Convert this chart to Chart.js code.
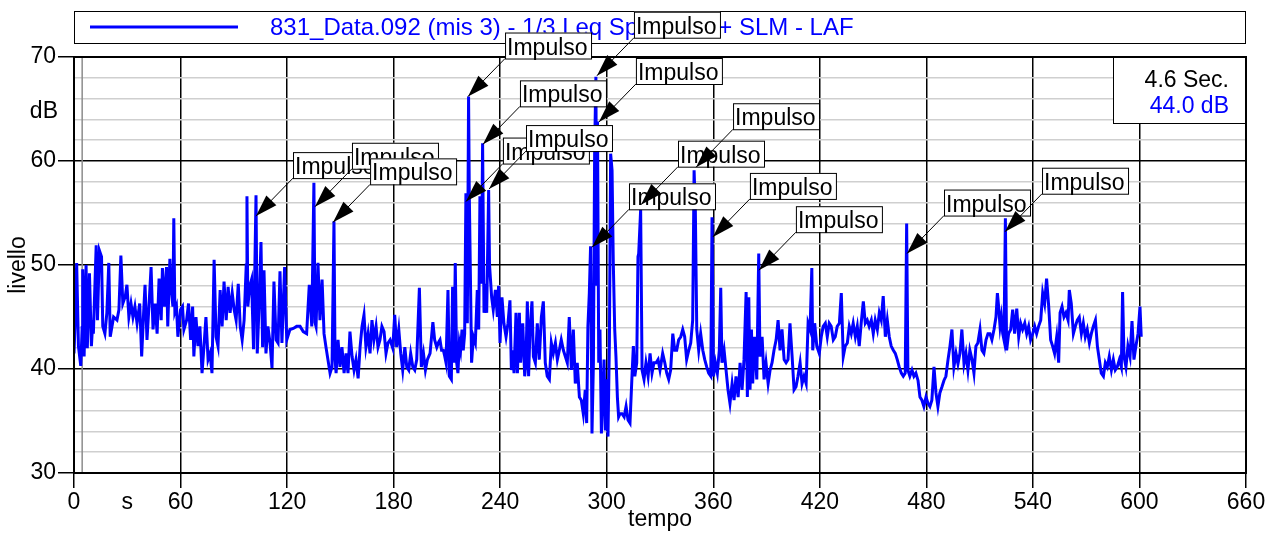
<!DOCTYPE html>
<html>
<head>
<meta charset="utf-8">
<script src="https://cdn.jsdelivr.net/npm/chart.js@4.4.1/dist/chart.umd.min.js"></script>
<style>
  html, body { margin: 0; padding: 0; background: #fff; }
  #wrap { width: 1278px; height: 534px; }
</style>
</head>
<body>
<div id="wrap"><canvas id="chart" width="1278" height="534"></canvas></div>
<script>
/**
 * LAF level vs time, with impulse markers and cursor readout
 */
const FONT = '"Liberation Sans", Arial, sans-serif';

const seriesName = '831_Data.092 (mis 3) - 1/3 Leq Spectrum + SLM - LAF';

// time in seconds
const timeS = [
  0, 0.75, 1.5, 2.5, 3.8, 4.6, 4.9, 5.7, 6.8, 7.5,
  8.7, 9.8, 10.6, 10.9, 12.5, 13.2, 14.3, 15.5, 16.2, 17.4,
  18.5, 19.6, 20.4, 22.3, 24.2, 25.3, 26.4, 27.5, 28.9, 29.8,
  30.9, 32.1, 33.2, 34.3, 35.5, 37.0, 38.1, 39.2, 40.0, 41.1,
  42.3, 43.4, 44.5, 45.7, 46.8, 47.9, 49.1, 49.8, 50.9, 52.1,
  52.8, 54.0, 54.7, 55.7, 56.2, 56.8, 57.7, 58.5, 60.0, 61.1,
  61.9, 63.4, 64.5, 65.7, 66.8, 67.5, 68.7, 69.8, 70.9, 72.1,
  73.2, 74.3, 75.5, 76.6, 77.7, 78.9, 80.0, 81.1, 82.3, 83.4,
  84.5, 85.7, 86.8, 87.9, 89.1, 90.2, 91.3, 92.5, 93.6, 94.7,
  95.8, 97.0, 97.4, 97.9, 98.9, 100.0, 101.1, 102.5, 103.2, 104.2,
  105.3, 106.2, 107.0, 108.1, 109.2, 110.4, 111.5, 112.6, 113.8, 114.9,
  116.0, 117.1, 118.6, 119.8, 121.6, 123.5, 125.4, 127.3, 129.1, 131.0,
  132.5, 133.9, 135.1, 135.7, 136.3, 137.4, 138.5, 139.7, 140.8, 141.9,
  143.0, 144.2, 145.3, 146.4, 147.0, 147.6, 148.7, 149.8, 150.9, 152.1,
  153.2, 154.3, 155.4, 156.6, 157.7, 158.8, 160.0, 161.1, 162.2, 163.3,
  164.4, 165.6, 166.7, 167.8, 168.9, 170.1, 171.2, 172.3, 173.4, 174.6,
  175.7, 176.8, 178.0, 179.5, 180.6, 181.7, 182.9, 184.0, 185.1, 186.3,
  187.4, 188.5, 189.6, 190.8, 191.9, 193.0, 194.5, 195.6, 196.8, 197.9,
  199.0, 200.5, 202.1, 203.1, 204.3, 205.4, 206.1, 207.0, 208.0, 208.8,
  209.5, 210.6, 211.4, 212.5, 213.2, 214.0, 214.7, 215.5, 216.2, 217.0,
  217.7, 218.5, 219.2, 220.0, 220.7, 221.5, 222.2, 222.6, 223.9, 224.9,
  226.0, 227.1, 227.9, 228.6, 229.4, 230.1, 230.9, 231.6, 232.4, 233.5,
  234.0, 235.2, 236.1, 237.3, 238.4, 239.1, 239.9, 241.0, 242.1, 243.3,
  244.4, 245.5, 246.3, 247.0, 247.8, 248.9, 249.7, 250.8, 251.5, 252.7,
  253.8, 254.5, 255.3, 256.0, 256.8, 257.9, 258.7, 259.8, 260.9, 262.0,
  263.2, 264.3, 265.4, 266.5, 267.7, 268.8, 269.9, 271.1, 272.2, 273.3,
  274.4, 275.6, 276.7, 277.8, 278.9, 280.1, 281.2, 282.3, 283.4, 284.6,
  285.7, 286.8, 287.9, 288.7, 289.4, 290.2, 290.9, 291.7, 292.5, 293.2,
  293.9, 294.4, 294.8, 295.5, 296.2, 297.0, 297.7, 298.5, 299.2, 300.0,
  300.7, 301.5, 302.2, 303.0, 303.7, 304.5, 305.2, 306.0, 306.7, 307.5,
  308.6, 309.8, 310.9, 312.0, 313.1, 314.3, 315.0, 315.8, 316.9, 317.6,
  318.0, 319.1, 319.9, 321.0, 322.1, 323.3, 324.4, 325.5, 326.6, 327.8,
  328.9, 330.0, 331.5, 332.7, 333.8, 334.9, 336.0, 337.2, 338.3, 339.4,
  340.5, 341.7, 342.8, 343.9, 345.0, 346.2, 347.3, 348.4, 349.2, 349.9,
  350.7, 351.8, 352.9, 354.1, 355.2, 356.3, 357.4, 358.6, 359.3, 360.1,
  361.2, 362.3, 363.4, 364.2, 364.9, 366.1, 367.2, 368.3, 369.4, 370.6,
  371.7, 372.8, 374.0, 375.1, 376.2, 377.3, 378.5, 379.2, 380.0, 380.7,
  381.5, 382.2, 383.3, 384.5, 385.6, 386.3, 387.5, 388.6, 389.7, 390.9,
  392.0, 393.1, 394.2, 395.4, 396.5, 397.6, 398.7, 399.9, 401.0, 402.1,
  403.2, 404.4, 405.5, 406.6, 407.7, 408.9, 410.0, 411.1, 412.3, 413.4,
  414.5, 415.5, 416.0, 417.1, 418.3, 419.7, 420.8, 421.9, 423.1, 424.2,
  425.3, 426.4, 427.6, 428.7, 429.8, 431.0, 432.1, 433.2, 434.3, 435.5,
  436.6, 437.7, 438.8, 440.0, 441.1, 442.2, 443.3, 444.5, 445.6, 446.7,
  447.8, 449.0, 450.1, 451.2, 452.4, 453.5, 454.6, 455.7, 456.9, 458.0,
  459.1, 460.2, 461.4, 462.5, 463.6, 464.7, 465.9, 467.0, 468.1, 468.9,
  469.6, 470.7, 471.9, 473.0, 474.1, 475.3, 476.4, 477.5, 478.6, 479.8,
  480.9, 482.0, 483.1, 484.3, 485.4, 486.5, 487.6, 488.8, 489.9, 491.0,
  492.2, 493.3, 494.4, 495.5, 496.7, 497.8, 498.9, 500.0, 501.2, 502.3,
  503.4, 504.5, 505.7, 506.8, 507.9, 509.0, 510.2, 511.3, 512.4, 513.6,
  514.7, 515.8, 516.9, 518.1, 519.2, 520.0, 520.7, 521.5, 522.2, 523.0,
  523.7, 524.5, 525.2, 526.3, 527.5, 528.6, 529.7, 530.9, 532.0, 533.1,
  534.2, 535.4, 536.5, 537.6, 538.7, 539.9, 541.0, 542.1, 543.2, 544.4,
  545.5, 546.6, 547.7, 548.9, 550.0, 551.1, 552.2, 553.4, 554.5, 555.3,
  556.4, 557.5, 558.6, 559.8, 560.5, 561.6, 562.8, 563.9, 565.0, 566.1,
  567.3, 568.4, 569.5, 570.6, 571.8, 572.9, 574.0, 575.2, 576.3, 577.4,
  578.5, 579.7, 580.8, 581.9, 583.0, 584.2, 585.3, 586.4, 587.5, 588.7,
  589.8, 590.5, 591.3, 592.4, 593.5, 594.7, 595.8, 596.9, 598.0, 599.2,
  600.3, 601.0
];

// LAF level in dB
const levelDb = [
  41.5, 45.0, 50.2, 42.2, 40.3, 44.0, 49.6, 41.2, 50.0, 42.0,
  49.2, 42.2, 44.7, 43.4, 51.9, 44.7, 51.4, 50.8, 44.1, 43.4,
  45.4, 50.2, 43.1, 45.0, 44.7, 45.7, 50.9, 46.3, 47.0, 48.1,
  45.0, 46.3, 45.0, 46.0, 44.4, 46.3, 41.2, 45.4, 48.1, 42.8,
  46.3, 49.8, 43.8, 46.3, 43.4, 48.7, 44.7, 49.7, 46.0, 49.8,
  44.1, 50.6, 47.9, 46.0, 54.5, 45.5, 46.0, 43.1, 45.7, 46.0,
  43.8, 44.7, 46.3, 42.8, 46.0, 41.2, 45.0, 42.2, 44.1, 39.6,
  42.2, 45.0, 40.9, 41.5, 39.6, 50.5, 43.1, 42.2, 47.6, 44.1,
  48.4, 44.7, 47.9, 45.4, 47.3, 45.7, 44.7, 48.2, 44.1, 42.8,
  44.7, 50.0, 56.6, 46.0, 47.9, 48.6, 41.9, 56.7, 41.5, 46.0,
  52.2, 42.1, 49.5, 41.5, 44.1, 42.5, 40.1, 48.4, 42.8, 42.5,
  49.4, 42.5, 49.8, 42.8, 43.8, 43.9, 44.1, 44.1, 43.6, 43.4,
  48.1, 44.1, 57.9, 44.5, 44.1, 50.2, 44.7, 48.6, 43.4, 42.1,
  40.9, 39.6, 40.2, 54.2, 41.0, 39.6, 42.8, 40.2, 42.1, 39.6,
  41.5, 39.6, 43.6, 41.2, 39.9, 40.9, 39.1, 42.1, 44.1, 45.2,
  42.1, 43.4, 41.5, 44.7, 42.8, 44.1, 42.1, 42.8, 44.1, 43.6,
  41.5, 42.5, 42.8, 42.0, 45.2, 42.1, 43.8, 41.5, 39.9, 42.1,
  40.2, 39.9, 41.5, 40.2, 39.9, 40.9, 47.8, 40.2, 41.5, 39.9,
  40.9, 41.5, 44.5, 42.8, 42.1, 42.6, 42.8, 41.8, 41.8, 41.2,
  40.6, 47.6, 39.3, 39.0, 47.9, 40.6, 50.2, 40.6, 39.6, 42.5,
  41.8, 43.8, 41.8, 43.4, 56.9, 44.4, 66.2, 56.9, 40.6, 43.1,
  42.5, 47.6, 43.8, 56.6, 48.2, 61.7, 45.4, 48.2, 45.4, 57.2,
  50.0, 46.9, 45.7, 47.6, 45.0, 48.0, 42.5, 46.9, 44.4, 43.1,
  44.4, 46.6, 39.9, 41.8, 39.6, 45.4, 39.6, 45.4, 40.6, 44.4,
  39.3, 40.6, 46.5, 39.3, 43.8, 46.5, 41.2, 40.6, 44.4, 40.9,
  45.0, 46.5, 40.6, 39.3, 39.0, 42.5, 41.5, 42.5, 40.9, 41.8,
  42.8, 41.8, 41.2, 40.6, 45.0, 39.9, 43.8, 38.6, 40.6, 37.3,
  37.0, 35.7, 38.0, 34.8, 44.1, 47.3, 51.8, 33.8, 40.6, 61.1,
  68.1, 48.0, 63.8, 40.6, 43.8, 33.8, 37.3, 40.9, 34.1, 39.0,
  33.5, 42.5, 60.7, 59.1, 50.2, 43.8, 41.2, 37.3, 35.4, 35.7,
  35.7, 35.4, 36.4, 35.1, 34.8, 39.6, 42.2, 39.3, 40.6, 50.8,
  51.1, 55.3, 39.9, 39.0, 40.6, 39.3, 41.5, 39.6, 40.6, 40.6,
  40.9, 39.9, 41.5, 40.6, 39.6, 39.0, 39.9, 43.4, 41.8, 41.8,
  42.8, 43.1, 43.8, 43.1, 40.9, 41.8, 42.5, 44.7, 59.1, 55.3,
  43.8, 41.8, 43.4, 41.8, 40.9, 40.2, 39.6, 39.3, 54.6, 39.3,
  40.6, 39.6, 41.8, 47.8, 40.6, 41.8, 39.9, 38.0, 36.7, 38.6,
  37.0, 39.3, 37.3, 40.6, 38.0, 40.9, 47.4, 37.3, 46.9, 38.0,
  43.8, 38.6, 43.1, 39.0, 51.1, 41.2, 43.1, 39.0, 40.6, 38.6,
  39.9, 40.6, 41.8, 42.8, 44.7, 41.8, 43.8, 40.9, 40.6, 40.9,
  44.4, 41.2, 38.0, 38.3, 39.3, 40.6, 38.6, 39.3, 38.6, 44.4,
  43.8, 49.7, 41.8, 44.4, 42.2, 41.5, 43.1, 44.1, 44.4, 43.1,
  44.4, 44.1, 42.8, 43.1, 44.1, 44.4, 47.3, 41.2, 42.2, 42.5,
  44.1, 43.4, 44.4, 43.1, 44.1, 42.2, 44.4, 46.5, 44.4, 44.7,
  44.1, 44.7, 43.4, 44.7, 43.8, 45.4, 44.7, 47.0, 43.1, 44.7,
  43.1, 42.2, 41.8, 41.5, 40.9, 40.2, 39.6, 39.3, 39.6, 54.0,
  39.9, 39.3, 39.9, 39.3, 39.6, 38.9, 37.3, 37.0, 36.4, 37.3,
  36.7, 36.4, 37.0, 40.2, 37.7, 36.4, 37.7, 38.3, 38.9, 39.3,
  40.9, 42.2, 43.8, 40.2, 41.5, 40.5, 41.5, 43.8, 40.5, 41.5,
  39.9, 41.8, 40.9, 39.6, 42.2, 42.5, 43.8, 41.8, 41.5, 42.8,
  43.4, 43.4, 42.8, 43.8, 45.0, 47.3, 46.0, 44.1, 45.0, 43.4,
  42.8, 54.5, 41.8, 43.4, 43.8, 45.7, 43.4, 45.8, 43.1, 44.4,
  43.8, 44.4, 43.4, 44.1, 42.8, 43.4, 44.1, 43.4, 44.1, 44.7,
  47.3, 46.3, 48.7, 46.0, 42.8, 42.2, 41.5, 43.1, 40.6, 45.4,
  46.0, 45.0, 45.4, 44.7, 47.6, 46.3, 43.4, 44.1, 44.7, 45.0,
  43.4, 44.4, 43.1, 43.8, 42.5, 43.4, 44.1, 44.7, 42.2, 40.9,
  39.6, 39.3, 40.6, 40.2, 41.2, 39.9, 40.9, 39.9, 40.2, 40.9,
  40.2, 47.4, 41.2, 40.2, 42.2, 41.2, 44.6, 40.9, 42.2, 43.4,
  46.0, 43.1
];

// points the "Impulso" labels point at
const impulseTime = [102.5, 135.7, 145.9, 221.9, 230.3, 220.7, 233.7, 294.5,
  295.6, 291.7, 319.3, 350.3, 359.8, 385.7, 469.1, 524.3];
const impulseLevel = [54.7, 55.6, 54.1, 66.2, 61.6, 56.1, 57.3, 68.2,
  63.75, 51.7, 55.8, 59.4, 52.7, 49.5, 51.1, 53.2];

// x ticks every 30 s, only some labelled
const xTickLabels = ['0', 's', '60', '', '120', '', '180', '', '240', '', '300', '',
  '360', '', '420', '', '480', '', '540', '', '600', '', '660'];

const cursorTime = 4.6;
const cursorLevel = 44.0;

const overlay = {
  id: 'overlay',
  beforeDatasetsDraw(chart) {
    const { ctx, chartArea: a, scales: { x } } = chart;
    const cx = x.getPixelForValue(cursorTime);
    ctx.save();
    ctx.strokeStyle = '#8c8c8c';
    ctx.lineWidth = 1.5;
    ctx.beginPath();
    ctx.moveTo(cx, a.top);
    ctx.lineTo(cx, a.bottom);
    ctx.stroke();
    ctx.restore();
  },
  afterDraw(chart) {
    const { ctx, chartArea: a, scales: { x, y } } = chart;
    ctx.save();

    // plot frame
    ctx.strokeStyle = '#000';
    ctx.lineWidth = 2;
    ctx.strokeRect(a.left, a.top, a.right - a.left, a.bottom - a.top);

    // unit beside y ticks
    ctx.font = `23px ${FONT}`;
    ctx.fillStyle = '#000';
    ctx.textAlign = 'right';
    ctx.textBaseline = 'middle';
    ctx.fillText('dB', a.left - 16, y.getPixelForValue(64.7));

    // legend box
    ctx.fillStyle = '#fff';
    ctx.fillRect(a.left, 11, a.right - a.left, 32);
    ctx.lineWidth = 1;
    ctx.strokeRect(a.left + 0.5, 11.5, a.right - a.left - 1, 32);
    ctx.strokeStyle = '#0000ff';
    ctx.lineWidth = 3;
    ctx.beginPath();
    ctx.moveTo(a.left + 16, 27);
    ctx.lineTo(a.left + 164, 27);
    ctx.stroke();
    ctx.font = `24px ${FONT}`;
    ctx.fillStyle = '#0000ff';
    ctx.textAlign = 'left';
    ctx.textBaseline = 'alphabetic';
    ctx.fillText(seriesName, a.left + 196, 35);

    // cursor readout
    ctx.font = `23px ${FONT}`;
    const bw = 133, bh = 66;
    ctx.fillStyle = '#fff';
    ctx.fillRect(a.right - bw, a.top, bw, bh);
    ctx.strokeStyle = '#000';
    ctx.lineWidth = 1;
    ctx.strokeRect(a.right - bw + 0.5, a.top + 0.5, bw - 1, bh);
    ctx.textAlign = 'right';
    ctx.fillStyle = '#000';
    ctx.fillText(`${cursorTime.toFixed(1)} Sec.`, a.right - 17, a.top + 30);
    ctx.fillStyle = '#0000ff';
    ctx.fillText(`${cursorLevel.toFixed(1)} dB`, a.right - 17, a.top + 56);

    // impulse labels with arrows
    ctx.textAlign = 'left';
    impulseTime.forEach((t, i) => {
      const px = x.getPixelForValue(t);
      const py = y.getPixelForValue(impulseLevel[i]);
      const bx = px + 37, by = py - 38;
      ctx.fillStyle = '#fff';
      ctx.fillRect(bx, by - 26, 86, 26);
      ctx.strokeStyle = '#000';
      ctx.lineWidth = 1;
      ctx.strokeRect(bx + 0.5, by - 25.5, 86, 26);
      ctx.fillStyle = '#000';
      ctx.fillText('Impulso', bx + 2, by - 4);

      ctx.beginPath();
      ctx.moveTo(bx, by);
      ctx.lineTo(px, py);
      ctx.stroke();
      const ang = Math.atan2(by - py, bx - px);
      const hl = 22, hw = 7;
      const ex = px + Math.cos(ang) * hl, ey = py + Math.sin(ang) * hl;
      ctx.beginPath();
      ctx.moveTo(px, py);
      ctx.lineTo(ex - Math.sin(ang) * hw, ey + Math.cos(ang) * hw);
      ctx.lineTo(ex + Math.sin(ang) * hw, ey - Math.cos(ang) * hw);
      ctx.closePath();
      ctx.fill();
    });

    ctx.restore();
  }
};

const majorX = c => c.tick && c.tick.value % 60 === 0 ? '#000' : 'rgba(0,0,0,0)';
const majorY = c => c.tick && c.tick.value % 10 === 0;

new Chart(document.getElementById('chart'), {
  type: 'line',
  data: {
    datasets: [{
      label: seriesName,
      data: timeS.map((t, i) => ({ x: t, y: levelDb[i] })),
      borderColor: '#0000ff',
      borderWidth: 3,
      pointRadius: 0,
      tension: 0,
      fill: false
    }]
  },
  options: {
    responsive: false,
    animation: false,
    layout: { padding: { top: 57, right: 32, left: 0, bottom: 0 } },
    plugins: { legend: { display: false }, tooltip: { enabled: false } },
    scales: {
      x: {
        type: 'linear',
        min: 0,
        max: 660,
        afterFit: s => { s.height = 61; },
        ticks: {
          stepSize: 30,
          autoSkip: false,
          maxRotation: 0,
          padding: 1,
          color: '#000',
          font: { family: FONT, size: 23 },
          callback: v => xTickLabels[Math.round(v / 30)] ?? ''
        },
        grid: { color: majorX, tickColor: majorX, lineWidth: 1.5, tickLength: 15 },
        border: { color: '#000', width: 2 },
        title: {
          display: true, text: 'tempo', color: '#000',
          font: { family: FONT, size: 23 }, padding: { top: 0, bottom: 1 }
        }
      },
      y: {
        min: 30,
        max: 70,
        afterFit: s => { s.width = 74; },
        ticks: {
          stepSize: 2,
          autoSkip: false,
          padding: 2,
          color: '#000',
          font: { family: FONT, size: 23 },
          callback: v => v % 10 === 0 ? String(v) : ''
        },
        grid: {
          color: c => majorY(c) ? '#000' : '#cfcfcf',
          tickColor: c => majorY(c) ? '#000' : 'rgba(0,0,0,0)',
          lineWidth: 1.5,
          tickLength: 16
        },
        border: { color: '#000', width: 2 },
        title: {
          display: true, text: 'livello', color: '#000',
          font: { family: FONT, size: 23 }, padding: { top: 5, bottom: 0 }
        }
      }
    }
  },
  plugins: [overlay]
});
</script>
</body>
</html>
